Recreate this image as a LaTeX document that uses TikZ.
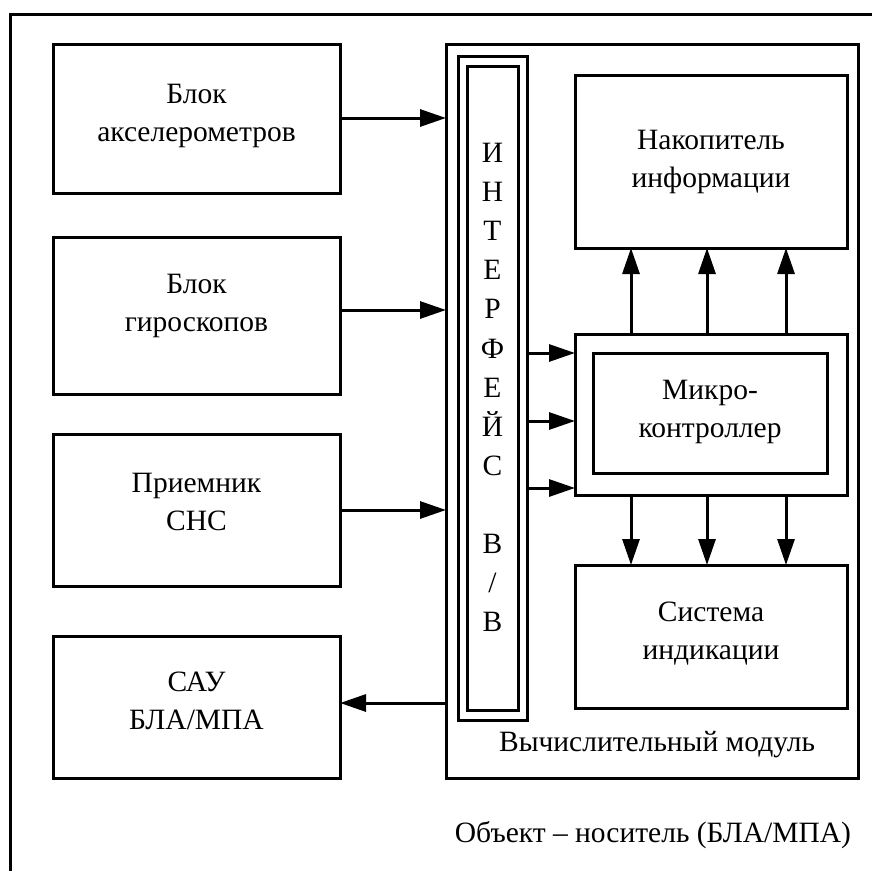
\documentclass[tikz,border=0pt]{standalone}
\usepackage{fontspec}
\setmainfont{Liberation Serif}
\usetikzlibrary{arrows.meta}
\begin{document}
\begin{tikzpicture}[x=1pt,y=-1pt,
  box/.style={draw, line width=3pt, inner sep=0pt, outer sep=0pt, rectangle},
  lbl/.style={font=\fontsize{29.5}{38}\selectfont, align=center},
  arr/.style={line width=3pt, -{Triangle[length=26pt,width=17pt]}},
  hold/.style={inner sep=0pt, outer sep=0pt}]
\useasboundingbox (0,0) rectangle (872,870);
\clip (0,0) rectangle (872,870);
% outer frame (object carrier), extends beyond picture
\node[box, minimum width=900pt, minimum height=900pt, anchor=north west] (frame) at (10,14) {};
% left blocks
\node[box, minimum width=287pt, minimum height=149pt] (b1) at (196.5,118.5) {};
\node[lbl] (b1t) at (196.5,116) {Блок\\акселерометров};
\node[box, minimum width=287pt, minimum height=157pt] (b2) at (196.5,315.5) {};
\node[lbl] (b2t) at (196.5,306) {Блок\\гироскопов};
\node[box, minimum width=287pt, minimum height=152pt] (b3) at (196.5,510) {};
\node[lbl] (b3t) at (196.5,502) {Приемник\\СНС};
\node[box, minimum width=287pt, minimum height=142pt] (b4) at (196.5,707) {};
\node[lbl] (b4t) at (196.5,701) {САУ\\БЛА/МПА};
% computing module
\node[box, minimum width=412pt, minimum height=734pt] (mod) at (652,411) {};
\node[lbl] (modt) at (657,745) {Вычислительный модуль};
% interface
\node[box, minimum width=69pt, minimum height=664pt] (ifo) at (492.5,388) {};
\node[box, minimum width=51pt, minimum height=644pt] (ifi) at (492.5,388) {};
\node[font=\fontsize{29.5}{39.1}\selectfont, align=center, hold] (ift) at (492.5,387.5)
  {И\\Н\\Т\\Е\\Р\\Ф\\Е\\Й\\С\\[39.1pt]В\\/\\В};
% right blocks
\node[box, minimum width=272pt, minimum height=173pt] (nak) at (711,161.5) {};
\node[lbl] (nakt) at (711,162) {Накопитель\\информации};
\node[box, minimum width=272pt, minimum height=161pt] (mco) at (711,414.5) {};
\node[box, minimum width=234pt, minimum height=120pt] (mci) at (710,413.5) {};
\node[lbl] (mcit) at (710,412) {Микро-\\контроллер};
\node[box, minimum width=272pt, minimum height=143pt] (sys) at (711,636.5) {};
\node[lbl] (syst) at (711,634) {Система\\индикации};
% object label
\node[lbl] (obj) at (653,835) {Объект – носитель (БЛА/МПА)};
% helper coordinates
\coordinate (y1) at (0,118);
\coordinate (y2) at (0,310);
\coordinate (y3) at (0,510);
\coordinate (y4) at (0,703);
\coordinate (r1) at (0,353);
\coordinate (r2) at (0,421);
\coordinate (r3) at (0,488);
\coordinate (c1) at (631,0);
\coordinate (c2) at (707,0);
\coordinate (c3) at (786,0);
% arrows to module
\draw[arr] (b1.east |- y1) -- (mod.west |- y1);
\draw[arr] (b2.east |- y2) -- (mod.west |- y2);
\draw[arr] (b3.east |- y3) -- (mod.west |- y3);
\draw[arr] (mod.west |- y4) -- (b4.east |- y4);
% interface to microcontroller
\draw[arr] (ifo.east |- r1) -- (mco.west |- r1);
\draw[arr] (ifo.east |- r2) -- (mco.west |- r2);
\draw[arr] (ifo.east |- r3) -- (mco.west |- r3);
% microcontroller to storage
\draw[arr] (mco.north -| c1) -- (nak.south -| c1);
\draw[arr] (mco.north -| c2) -- (nak.south -| c2);
\draw[arr] (mco.north -| c3) -- (nak.south -| c3);
% microcontroller to indication
\draw[arr] (mco.south -| c1) -- (sys.north -| c1);
\draw[arr] (mco.south -| c2) -- (sys.north -| c2);
\draw[arr] (mco.south -| c3) -- (sys.north -| c3);
\end{tikzpicture}
\end{document}
